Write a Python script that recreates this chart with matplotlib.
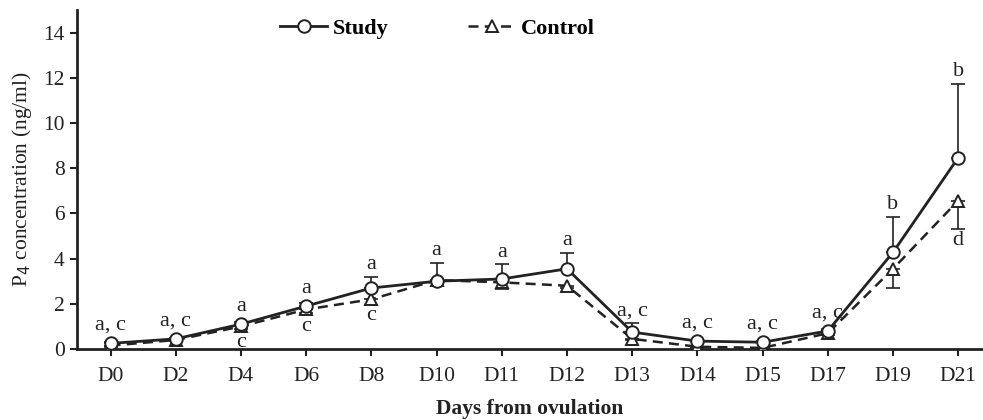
import matplotlib
matplotlib.use("Agg")
import matplotlib.pyplot as plt
import numpy as np

plt.rcParams['font.family'] = ['Liberation Serif', 'DejaVu Serif']

days = ["D0", "D2", "D4", "D6", "D8", "D10", "D11", "D12", "D13", "D14", "D15", "D17", "D19", "D21"]
study = [0.25, 0.45, 1.10, 1.90, 2.70, 3.00, 3.10, 3.55, 0.75, 0.35, 0.30, 0.80, 4.28, 8.47]
control = [0.15, 0.40, 1.00, 1.75, 2.20, 3.05, 2.95, 2.80, 0.45, 0.10, 0.05, 0.70, 3.55, 6.57]
study_err_up = [0.05, 0.05, 0.10, 0.15, 0.50, 0.80, 0.65, 0.70, 0.40, 0.05, 0.05, 0.10, 1.57, 3.28]
control_err_dn = [0.05, 0.05, 0.10, 0.15, 0.25, 0.10, 0.30, 0.10, 0.05, 0.05, 0.05, 0.10, 0.85, 1.27]
labels_above = ["a, c", "a, c", "a", "a", "a", "a", "a", "a", "a, c", "a, c", "a, c", "a, c", "b", "b"]
labels_below = ["", "", "c", "c", "c", "", "", "", "", "", "", "", "", "d"]

fig = plt.figure(figsize=(9.83, 4.2), dpi=100)
ax = fig.add_axes([0.078, 0.169, 0.922, 0.807])
x = np.arange(len(days))
zeros = [0] * len(days)

ax.errorbar(x, study, yerr=[zeros, study_err_up], fmt='none', ecolor='#222222',
            elinewidth=1.2, capsize=5, capthick=1.2, zorder=2)
ax.errorbar(x, control, yerr=[control_err_dn, zeros], fmt='none', ecolor='#222222',
            elinewidth=1.2, capsize=5, capthick=1.2, zorder=2)
ax.plot(x, control, linestyle=(0, (4, 2.5)), color='#222222', linewidth=1.8,
        marker='^', markersize=8, markerfacecolor='white', markeredgecolor='#222222',
        markeredgewidth=1.4, label='Control', zorder=3)
ax.plot(x, study, linestyle='-', color='#222222', linewidth=2.0,
        marker='o', markersize=9, markerfacecolor='white', markeredgecolor='#222222',
        markeredgewidth=1.4, label='Study', zorder=4)

for i in range(len(days)):
    top = study[i] + study_err_up[i]
    if labels_above[i]:
        ax.annotate(labels_above[i], (x[i], max(top, study[i] + 0.25)), xytext=(0, 2),
                    textcoords='offset points', ha='center', va='bottom', fontsize=16,
                    color='#222222')
    if labels_below[i]:
        bot = control[i] - control_err_dn[i]
        ax.annotate(labels_below[i], (x[i], min(bot, control[i] - 0.25)), xytext=(0, -1),
                    textcoords='offset points', ha='center', va='top', fontsize=16,
                    color='#222222')

ax.set_xlim(-0.52, 13.38)
ax.set_ylim(0, 15)
ax.set_yticks(range(0, 15, 2))
ax.set_xticks(x)
ax.set_xticklabels(days)
ax.tick_params(axis='both', direction='out', length=5, width=1.5, labelsize=15.5, colors='#222222')
ax.tick_params(axis='x', pad=8)
for s in ['top', 'right']:
    ax.spines[s].set_visible(False)
for s in ['left', 'bottom']:
    ax.spines[s].set_linewidth(2.0)
    ax.spines[s].set_color('#222222')

ax.set_ylabel('P$_4$ concentration (ng/ml)', fontsize=15.5, color='#222222', labelpad=7)
ax.set_xlabel('Days from ovulation', fontsize=15.5, fontweight='bold', color='#222222', labelpad=9)

h, l = ax.get_legend_handles_labels()
leg = ax.legend([h[1], h[0]], [l[1], l[0]], loc='upper center', bbox_to_anchor=(0.398, 1.035),
                ncol=2, frameon=False, handlelength=2.1, handletextpad=0.25, columnspacing=3.6,
                prop={'weight': 'bold', 'size': 16})

fig.savefig('out.png', dpi=100)
